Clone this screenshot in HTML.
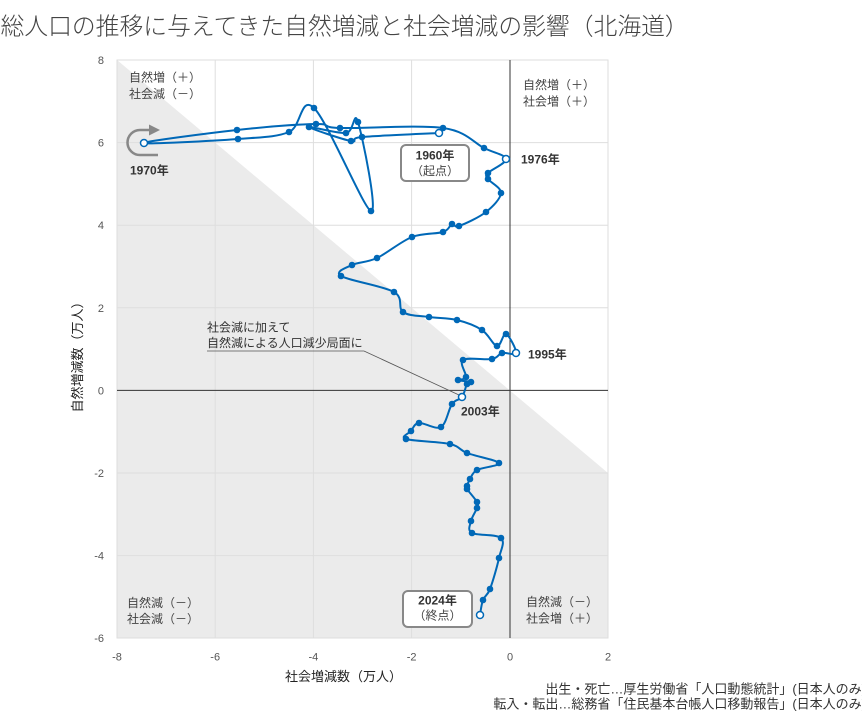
<!DOCTYPE html>
<html lang="ja">
<head>
<meta charset="utf-8">
<style>
  html,body{margin:0;padding:0;background:#fff;}
  svg{display:block;}
  text{font-family:"Liberation Sans","Noto Sans CJK JP",sans-serif;}
</style>
</head>
<body>
<svg id="chart" width="862" height="717" viewBox="0 0 862 717" xmlns="http://www.w3.org/2000/svg">
  <!-- title -->
  <text x="0.5" y="34.5" font-size="23.8" font-weight="300" fill="#444">総人口の推移に与えてきた自然増減と社会増減の影響（北海道）</text>

  <!-- plot background -->
  <rect x="117" y="60" width="491" height="578" fill="#ffffff"/>
  <polygon points="117,60 608,473 608,638 117,638" fill="#ebebeb"/>

  <!-- grid -->
  <g stroke="#dedede" stroke-width="1" fill="none">
    <line x1="215.2" y1="60" x2="215.2" y2="638"/>
    <line x1="313.4" y1="60" x2="313.4" y2="638"/>
    <line x1="411.6" y1="60" x2="411.6" y2="638"/>
    <line x1="117" y1="142.6" x2="608" y2="142.6"/>
    <line x1="117" y1="225.2" x2="608" y2="225.2"/>
    <line x1="117" y1="307.8" x2="608" y2="307.8"/>
    <line x1="117" y1="473" x2="608" y2="473"/>
    <line x1="117" y1="555.6" x2="608" y2="555.6"/>
    <rect x="117" y="60" width="491" height="578"/>
  </g>

  <!-- zero axes -->
  <line x1="510" y1="60" x2="510" y2="638" stroke="#333" stroke-width="1"/>
  <line x1="117" y1="390.4" x2="608" y2="390.4" stroke="#333" stroke-width="1"/>

  <!-- y tick labels -->
  <g font-size="11" fill="#555" text-anchor="end">
    <text x="104" y="64">8</text>
    <text x="104" y="146.6">6</text>
    <text x="104" y="229.2">4</text>
    <text x="104" y="311.8">2</text>
    <text x="104" y="394.4">0</text>
    <text x="104" y="477">-2</text>
    <text x="104" y="559.6">-4</text>
    <text x="104" y="642">-6</text>
  </g>
  <!-- x tick labels -->
  <g font-size="11" fill="#555" text-anchor="middle">
    <text x="117" y="660.5">-8</text>
    <text x="215.2" y="660.5">-6</text>
    <text x="313.4" y="660.5">-4</text>
    <text x="411.6" y="660.5">-2</text>
    <text x="510" y="660.5">0</text>
    <text x="608" y="660.5">2</text>
  </g>

  <!-- axis titles -->
  <text x="343.5" y="681" font-size="13" fill="#222" text-anchor="middle">社会増減数（万人）</text>
  <text transform="translate(82,354) rotate(-90)" font-size="13" fill="#222" text-anchor="middle">自然増減数（万人）</text>

  <!-- quadrant labels -->
  <g font-size="12" fill="#444">
    <text x="129" y="81.5">自然増（＋）</text>
    <text x="129" y="98">社会減（－）</text>
    <text x="523" y="89">自然増（＋）</text>
    <text x="523" y="105.5">社会増（＋）</text>
    <text x="127" y="607">自然減（－）</text>
    <text x="127" y="623">社会減（－）</text>
    <text x="526" y="606">自然減（－）</text>
    <text x="526" y="622.5">社会増（＋）</text>
  </g>

  <!-- leader line annotation -->
  <polyline points="207,351 364,351 459,395" fill="none" stroke="#555" stroke-width="0.8"/>
  <g font-size="12" fill="#333">
    <text x="207" y="331.5">社会減に加えて</text>
    <text x="207" y="347">自然減による人口減少局面に</text>
  </g>

  <!-- 1970 turn-around arrow -->
  <path d="M158,155 L140,155 A12.5,12.5 0 0 1 140,130 L150,130" fill="none" stroke="#888" stroke-width="2.5"/>
  <polygon points="149,124.5 160,130 149,135.5" fill="#888"/>

  <!-- series (fallback straight path, replaced by script) -->
  <path id="series" d="M439,133 L362,137 L351,141 L309,127 L346,133 L358,122 L371,211 L314,108 L289,132 L238,139 L144,143 L237,130 L316,124 L340,128 L443,128 L484,148 L506,159 L488,173 L488,179 L501,193 L486,212 L459,226 L452,224 L443,232 L412,237 L377,258 L352,265 L341,276 L394,292 L403,312 L429,317 L457,320 L482,330 L497,346 L506,334 L516,353 L502,353 L492,359 L463,360 L466,377 L458,380 L471,382 L467,384 L462,397 L452,404 L441,427 L419,423 L411,431 L406,439 L450,444 L467,453 L499,463 L477,470 L470,479 L467,486 L467,489 L477,502 L477,508 L471,521 L472,533 L501,538 L499,558 L490,589 L483,600 L480,615" fill="none" stroke="#0068b7" stroke-width="2" stroke-linejoin="round"/>
  <g id="dots" fill="#0068b7"></g>
  <g id="opens" fill="#fff" stroke="#0068b7" stroke-width="1.5"></g>

  <!-- year labels -->
  <g font-size="12" font-weight="bold" fill="#333">
    <text x="521" y="163.5">1976年</text>
    <text x="130" y="174.5">1970年</text>
    <text x="528" y="358.5">1995年</text>
    <text x="461" y="415.5">2003年</text>
  </g>

  <!-- callout boxes -->
  <rect x="401" y="145" width="68" height="36" rx="5" ry="5" fill="#fff" stroke="#888" stroke-width="2"/>
  <text x="435" y="159.5" font-size="12" font-weight="bold" fill="#333" text-anchor="middle">1960年</text>
  <text x="435" y="175" font-size="12" fill="#444" text-anchor="middle">（起点）</text>

  <rect x="403" y="591" width="69" height="36" rx="5" ry="5" fill="#fff" stroke="#888" stroke-width="2"/>
  <text x="437.5" y="604.5" font-size="12" font-weight="bold" fill="#333" text-anchor="middle">2024年</text>
  <text x="437.5" y="619.5" font-size="12" fill="#444" text-anchor="middle">（終点）</text>

  <!-- source -->
  <g font-size="13" fill="#333" text-anchor="end">
    <text x="866" y="693.5">出生・死亡…厚生労働省「人口動態統計」(日本人のみ)</text>
    <text x="866" y="708.5">転入・転出…総務省「住民基本台帳人口移動報告」(日本人のみ)</text>
  </g>
</svg>
<script>
(function(){
  var pts=[
    [439,133],[362,137],[351,141],[309,127],[346,133],[358,122],[371,211],[314,108],[289,132],[238,139],
    [144,143],[237,130],[316,124],[340,128],[443,128],[484,148],[506,159],[488,173],[488,179],[501,193],
    [486,212],[459,226],[452,224],[443,232],[412,237],[377,258],[352,265],[341,276],[394,292],[403,312],
    [429,317],[457,320],[482,330],[497,346],[506,334],[516,353],[502,353],[492,359],[463,360],[466,377],
    [458,380],[471,382],[467,384],[462,397],[452,404],[441,427],[419,423],[411,431],[406,439],[450,444],
    [467,453],[499,463],[477,470],[470,479],[467,486],[467,489],[477,502],[477,508],[471,521],[472,533],
    [501,538],[499,558],[490,589],[483,600],[480,615]
  ];
  var openIdx={0:1,10:1,16:1,35:1,43:1,64:1};
  var n=pts.length;
  var d="M"+pts[0][0]+","+pts[0][1];
  for(var i=0;i<n-1;i++){
    var p0=pts[i-1]||pts[i], p1=pts[i], p2=pts[i+1], p3=pts[i+2]||pts[i+1];
    var c1x=p1[0]+(p2[0]-p0[0])/6, c1y=p1[1]+(p2[1]-p0[1])/6;
    var c2x=p2[0]-(p3[0]-p1[0])/6, c2y=p2[1]-(p3[1]-p1[1])/6;
    d+=" C"+c1x.toFixed(2)+","+c1y.toFixed(2)+" "+c2x.toFixed(2)+","+c2y.toFixed(2)+" "+p2[0]+","+p2[1];
  }
  document.getElementById("series").setAttribute("d",d);
  var ns="http://www.w3.org/2000/svg";
  var dots=document.getElementById("dots"), opens=document.getElementById("opens");
  for(var j=0;j<n;j++){
    var c=document.createElementNS(ns,"circle");
    c.setAttribute("cx",pts[j][0]); c.setAttribute("cy",pts[j][1]);
    if(openIdx[j]){ c.setAttribute("r","3.5"); opens.appendChild(c); }
    else { c.setAttribute("r","3.3"); dots.appendChild(c); }
  }
})();
</script>
</body>
</html>
